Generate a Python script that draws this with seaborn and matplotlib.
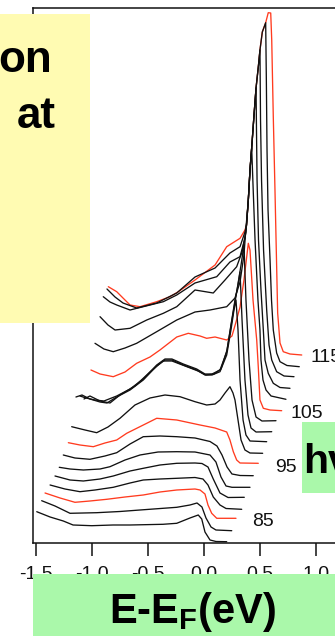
import numpy as np
import pandas as pd
import matplotlib
matplotlib.use("Agg")
import matplotlib.pyplot as plt
import seaborn as sns
from matplotlib.patches import Rectangle

# ---------------- data (E - E_F in eV, intensity in arb. units, waterfall offsets included) ----
hv = [81, 83, 85, 87, 89, 91, 93, 95, 97, 99, 101, 103, 105, 107, 109, 111, 113, 115]
red_hv = [85, 95, 105, 115]
label_hv = [85, 95, 105, 115]

E_81 = [-1.496, -1.377, -1.259, -1.172, -1.005, -0.815, -0.663, -0.369, -0.246, -0.128, -0.054, -0.023, 0.006, 0.051, 0.104, 0.200]
I_81 = [31.3, 26, 22, 18, 17.3, 18, 18, 18.7, 19.7, 25, 28, 24, 11, 3, 1.5, 1.3]

E_83 = [-1.452, -1.333, -1.199, -0.961, -0.753, -0.574, -0.246, -0.128, -0.065, -0.021, 0.015, 0.060, 0.104, 0.245]
I_83 = [42.3, 37, 29.7, 30.3, 31.5, 33, 35.7, 38, 40, 36, 25, 16, 13, 12.3]

E_85 = [-1.422, -1.288, -1.155, -1.021, -0.871, -0.708, -0.545, -0.396, -0.246, -0.083, -0.038, 0.006, 0.033, 0.066, 0.111, 0.283]
I_85 = [50, 45, 40.7, 42, 43.7, 46, 48, 51, 53, 54, 53, 49, 38, 29.7, 24.7, 24.7]

E_87 = [-1.377, -1.244, -1.110, -0.976, -0.813, -0.663, -0.545, -0.396, -0.246, -0.083, -0.012, 0.033, 0.080, 0.140, 0.194, 0.334]
I_87 = [58, 54, 51.3, 53, 55.7, 60, 63, 64, 64.7, 65.5, 64, 58, 46, 38, 34.5, 33.7]

E_89 = [-1.333, -1.199, -1.080, -0.931, -0.813, -0.663, -0.545, -0.396, -0.246, -0.083, -0.021, 0.033, 0.080, 0.140, 0.212, 0.357]
I_89 = [67, 63, 62, 64, 67, 72, 74.7, 78, 79.7, 80, 79.5, 76, 64, 50, 45.5, 45.7]

E_91 = [-1.295, -1.199, -1.080, -0.931, -0.842, -0.708, -0.574, -0.413, -0.246, -0.083, 0.051, 0.104, 0.149, 0.194, 0.247, 0.408]
I_91 = [75.7, 74, 73, 74, 76.3, 83, 88, 91, 91.3, 91, 88, 81, 66, 57, 55.7, 55.7]

E_93 = [-1.259, -1.155, -1.021, -0.887, -0.782, -0.663, -0.545, -0.396, -0.246, -0.083, 0.051, 0.113, 0.158, 0.203, 0.247, 0.319, 0.437]
I_93 = [88, 85, 83.7, 87, 90.3, 99, 106.3, 107, 106.3, 105, 101.5, 97, 88, 76, 69, 67.5, 67.3]

E_95 = [-1.214, -1.110, -0.991, -0.887, -0.782, -0.693, -0.514, -0.425, -0.246, -0.038, 0.096, 0.200, 0.229, 0.259, 0.289, 0.319, 0.482]
I_95 = [100.3, 98, 96.3, 100, 103, 109.7, 119.7, 124.7, 123, 118, 115, 111, 103, 91.3, 83, 80, 79.7]

E_97 = [-1.184, -1.065, -0.961, -0.860, -0.753, -0.619, -0.485, -0.351, -0.217, -0.083, 0.021, 0.096, 0.140, 0.185, 0.229, 0.256, 0.274, 0.301, 0.328, 0.363, 0.408, 0.521]
I_97 = [116.3, 113, 110.3, 116, 124.7, 138, 145, 148, 146.3, 141.3, 138, 139, 143, 150, 156.3, 150, 143, 123, 103, 93, 90, 89.7]

E_99 = [-1.146, -1.092, -1.021, -0.931, -0.869, -0.782, -0.663, -0.545, -0.425, -0.351, -0.289, -0.188, -0.068, 0.006, 0.069, 0.140, 0.200, 0.238, 0.265, 0.283, 0.301, 0.319, 0.346, 0.372, 0.408, 0.557]
I_99 = [146, 148, 144, 141, 140, 146, 153, 163, 177, 183, 183, 178, 173, 168, 168, 171.3, 188, 213, 233, 243, 213, 163, 123, 108, 102, 101.3]

E_101 = [-1.110, -1.056, -0.976, -0.896, -0.782, -0.663, -0.545, -0.425, -0.351, -0.289, -0.188, -0.068, 0.006, 0.069, 0.140, 0.200, 0.238, 0.274, 0.301, 0.319, 0.337, 0.363, 0.390, 0.417, 0.462, 0.602]
I_101 = [147, 145, 143, 142, 147, 154, 164, 178, 184, 184, 179, 174, 169, 169, 173, 191, 218, 243, 258, 271, 223, 163, 128, 115, 111, 111.3]

E_103 = [-1.074, -1.021, -0.931, -0.842, -0.753, -0.619, -0.485, -0.369, -0.289, -0.172, -0.056, 0.015, 0.087, 0.149, 0.203, 0.247, 0.292, 0.328, 0.354, 0.372, 0.399, 0.426, 0.462, 0.515, 0.640]
I_103 = [144, 147, 142, 140, 148, 157, 171, 182, 182, 177, 172, 168, 169, 174, 193, 223, 253, 278, 298, 243, 183, 143, 126, 122, 122.3]

E_105 = [-1.012, -0.931, -0.813, -0.708, -0.604, -0.485, -0.396, -0.246, -0.143, -0.038, 0.021, 0.096, 0.200, 0.247, 0.283, 0.319, 0.354, 0.393, 0.408, 0.435, 0.468, 0.482, 0.497, 0.527, 0.587, 0.691]
I_105 = [173, 169, 166.3, 171, 179.7, 186, 193, 206, 209.7, 207, 204.7, 206, 203, 207, 221, 236, 263, 299.7, 293, 243, 203, 176, 143, 134.7, 133, 132.3]

E_107 = [-0.976, -0.896, -0.813, -0.708, -0.604, -0.425, -0.246, -0.083, 0.051, 0.200, 0.274, 0.319, 0.354, 0.372, 0.393, 0.408, 0.423, 0.435, 0.453, 0.479, 0.497, 0.506, 0.524, 0.551, 0.596, 0.729]
I_107 = [199.7, 194, 191.3, 195, 199.7, 211.3, 223, 231, 233, 236.3, 245, 261, 288, 315, 343, 373, 395, 358, 303, 243, 213, 183, 163, 153, 147, 143.7]

E_109 = [-0.931, -0.860, -0.797, -0.663, -0.514, -0.366, -0.246, -0.083, 0.080, 0.185, 0.289, 0.337, 0.372, 0.393, 0.408, 0.423, 0.444, 0.462, 0.466, 0.471, 0.484, 0.506, 0.527, 0.542, 0.571, 0.616, 0.676, 0.765]
I_109 = [226.3, 218, 213, 214.7, 223, 229.7, 236.3, 253, 250, 263, 276.3, 291, 311, 343, 373, 395, 428, 455, 413, 363, 303, 253, 213, 183, 169.7, 159.7, 155.5, 154.7]

E_111 = [-0.902, -0.842, -0.782, -0.663, -0.545, -0.366, -0.246, -0.083, 0.111, 0.229, 0.319, 0.363, 0.377, 0.393, 0.408, 0.423, 0.444, 0.462, 0.484, 0.497, 0.502, 0.511, 0.529, 0.557, 0.578, 0.602, 0.646, 0.712, 0.801]
I_111 = [246.3, 241, 238, 233, 236.3, 241.3, 248, 260, 266.3, 281, 286.3, 305, 318, 343, 373, 395, 428, 455, 478, 493, 423, 363, 293, 233, 198, 183, 171.3, 167, 166.3]

E_113 = [-0.869, -0.797, -0.726, -0.604, -0.425, -0.246, -0.083, 0.096, 0.229, 0.319, 0.363, 0.377, 0.393, 0.408, 0.423, 0.444, 0.462, 0.484, 0.497, 0.518, 0.548, 0.554, 0.560, 0.569, 0.587, 0.600, 0.616, 0.646, 0.676, 0.738, 0.848]
I_113 = [254, 246, 240, 235, 240, 250, 266, 275, 290, 296.3, 311, 318, 343, 373, 395, 428, 455, 478, 493, 511, 520.3, 463, 393, 333, 283, 243, 213, 190, 181.3, 177.5, 176.3]

E_115 = [-0.857, -0.782, -0.726, -0.663, -0.574, -0.425, -0.306, -0.232, -0.083, 0.096, 0.200, 0.319, 0.363, 0.377, 0.393, 0.408, 0.423, 0.444, 0.462, 0.484, 0.497, 0.518, 0.548, 0.571, 0.593, 0.602, 0.616, 0.631, 0.646, 0.655, 0.676, 0.705, 0.765, 0.870]
I_115 = [256.3, 251.3, 245, 238, 236.3, 241.3, 246.3, 251.3, 263, 278, 296.3, 304.7, 313, 318, 343, 373, 395, 428, 455, 478, 493, 511, 520.3, 530.3, 530, 503, 426, 353, 276, 230, 200, 191.3, 189, 188]

tick_values = [-1.5, -1.0, -0.5, 0.0, 0.5, 1.0]
tick_labels = ["-1.5", "-1.0", "-0.5", "0.0", "0.5", "1.0"]

# label anchors (energy, intensity) for the photon-energy labels
label_E = [0.423, 0.631, 0.771, 0.944]
label_I = [17.0, 71.3, 124.7, 181.3]

curves = {
    81: (E_81, I_81), 83: (E_83, I_83), 85: (E_85, I_85), 87: (E_87, I_87),
    89: (E_89, I_89), 91: (E_91, I_91), 93: (E_93, I_93), 95: (E_95, I_95),
    97: (E_97, I_97), 99: (E_99, I_99), 101: (E_101, I_101), 103: (E_103, I_103),
    105: (E_105, I_105), 107: (E_107, I_107), 109: (E_109, I_109), 111: (E_111, I_111),
    113: (E_113, I_113), 115: (E_115, I_115),
}

# ---------------- style ----------------
sns.set_style("ticks")
plt.rcParams["font.family"] = ["Liberation Sans", "DejaVu Sans"]
plt.rcParams["mathtext.default"] = "regular"
plt.rcParams["axes.unicode_minus"] = False

RED = "#FF3B1F"
BLACK = "#111111"

fig = plt.figure(figsize=(3.35, 6.36), dpi=100)
fig.patch.set_facecolor("white")
ax = fig.add_axes([0.0985, 0.14623, 0.9515, 0.84119])
ax.set_facecolor("white")

for h in hv:
    E, I = curves[h]
    df = pd.DataFrame({"E": E, "I": I})
    is_red = h in red_hv
    sns.lineplot(data=df, x="E", y="I", ax=ax, sort=False, estimator=None,
                 color=RED if is_red else BLACK, lw=0.95,
                 zorder=2 if is_red else 3, legend=False)

ax.set_xticks(tick_values)
ax.set_xticklabels(tick_labels)
ax.set_yticks([])
ax.set_xlim(-1.5295, 1.3165)
ax.set_ylim(0, 535)
ax.set_xlabel("")
ax.set_ylabel("")
for side in ["left", "top", "bottom"]:
    ax.spines[side].set_visible(True)
    ax.spines[side].set_color("#111111")
    ax.spines[side].set_linewidth(1.1)
ax.spines["right"].set_visible(False)
ax.tick_params(axis="x", direction="out", length=9, width=1.1, pad=7.5,
               labelsize=14, colors="#111111", top=False)

for h, e, i in zip(label_hv, label_E, label_I):
    ax.text(e, i, str(h), fontsize=14, color="#111111", ha="left", va="baseline",
            clip_on=False)

# ---------------- overlay boxes (slide elements) ----------------
fig.add_artist(Rectangle((0.0, 0.4921), 0.2687, 0.4859, transform=fig.transFigure,
                         facecolor="#FFFBB2", edgecolor="none", zorder=10))
fig.text(0.1543, 0.8873, "on", fontsize=31.7, fontweight="bold", ha="right",
         va="baseline", color="black", zorder=11)
fig.text(0.1672, 0.7983, "at", fontsize=31.7, fontweight="bold", ha="right",
         va="baseline", color="black", zorder=11)

fig.add_artist(Rectangle((0.0985, 0.0), 0.95, 0.0975, transform=fig.transFigure,
                         facecolor="#AAF8AA", edgecolor="none", zorder=10))
fig.text(0.576, 0.0204, r"E-E$_\mathregular{F}$(eV)", fontsize=30, fontweight="bold",
         ha="center", va="baseline", color="black", zorder=11)

fig.add_artist(Rectangle((0.9015, 0.2248), 0.2, 0.1117, transform=fig.transFigure,
                         facecolor="#AAF8AA", edgecolor="none", zorder=10))
fig.text(0.9045, 0.2563, "hv", fontsize=29.5, fontweight="bold", ha="left",
         va="baseline", color="black", zorder=11)

fig.savefig("out.png", dpi=100, facecolor="white")
